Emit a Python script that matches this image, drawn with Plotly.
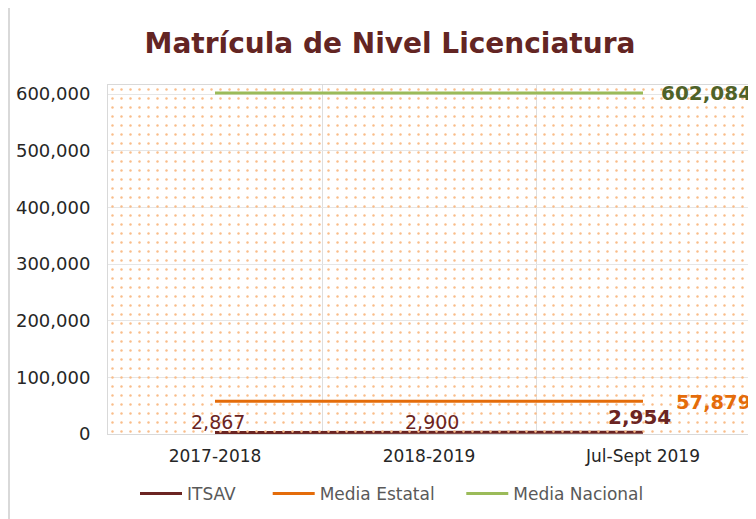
import plotly.graph_objects as go

categories = ["2017-2018", "2018-2019", "Jul-Sept 2019"]
itsav = [2867, 2900, 2954]
media_estatal = [57879, 57879, 57879]
media_nacional = [602084, 602084, 602084]
y_ticks = [0, 100000, 200000, 300000, 400000, 500000, 600000]
series_names = ["ITSAV", "Media Estatal", "Media Nacional"]

C_ITSAV = "#6b2422"
C_EST = "#e46c0a"
C_NAC = "#9bbb59"
FONT = "DejaVu Sans"
NB = "\u00a0"

def fmt(v):
    return f"{v:,}"

# figure is drawn 8px in from the window edge (page body margin)
L, R, T, B = 100, 14, 77, 93
PW, PH = 756 - L - R, 519 - T - B

fig = go.Figure()

# patterned plot-area background (decoration)
fig.add_trace(go.Bar(
    x=[0], y=[1], width=[1], xaxis="x2", yaxis="y2", showlegend=False, hoverinfo="skip",
    marker=dict(color="rgba(0,0,0,0)", line=dict(width=0),
                pattern=dict(shape=".", fgcolor="#f9bd89", size=9, solidity=0.06, fillmode="replace")),
))

fig.add_trace(go.Scatter(x=categories, y=itsav, name=series_names[0] + NB * 5, mode="lines",
                         line=dict(color=C_ITSAV, width=3)))
fig.add_trace(go.Scatter(x=categories, y=media_estatal, name=series_names[1] + NB * 4, mode="lines",
                         line=dict(color=C_EST, width=3)))
fig.add_trace(go.Scatter(x=categories, y=media_nacional, name=series_names[2], mode="lines",
                         line=dict(color=C_NAC, width=3)))

# data labels
for i, (c, v) in enumerate(zip(categories, itsav)):
    bold = i == len(itsav) - 1
    fig.add_annotation(x=c, y=v, text=("<b>%s</b>" % fmt(v)) if bold else fmt(v),
                       showarrow=False, xanchor="center", yanchor="bottom",
                       xshift=-4 if bold else 3, yshift=1 if bold else -3,
                       font=dict(family=FONT, size=20 if bold else 19, color=C_ITSAV))
fig.add_annotation(x=categories[-1], y=media_estatal[-1], text="<b>%s</b>" % fmt(media_estatal[-1]),
                   showarrow=False, xanchor="left", yanchor="middle", xshift=31, yshift=-1,
                   font=dict(family=FONT, size=19.5, color=C_EST))
fig.add_annotation(x=categories[-1], y=media_nacional[-1], text="<b>%s</b>" % fmt(media_nacional[-1]),
                   showarrow=False, xanchor="left", yanchor="middle", xshift=16, yshift=0,
                   font=dict(family=FONT, size=20, color="#4f6228"))

fig.update_layout(
    width=756, height=519,
    margin=dict(l=L, r=R, t=T, b=B, autoexpand=False),
    paper_bgcolor="white", plot_bgcolor="white",
    font=dict(family=FONT, color="#333333"),
    title=dict(text="<b>Matrícula de Nivel Licenciatura</b>", x=382 / 756, xanchor="center",
               y=1 - 35 / 519, yanchor="middle",
               font=dict(family=FONT, size=28, color="#632523")),
    xaxis=dict(type="category", range=[-0.5, 2.5], tickson="boundaries", ticks="",
               showgrid=True, gridcolor="#dedede", gridwidth=1,
               showline=True, linecolor="#d9d9d9", mirror=True, ticklabelstandoff=7,
               tickfont=dict(family=FONT, size=17, color="#262626")),
    yaxis=dict(range=[0, 616000], tickvals=y_ticks, ticktext=[fmt(v) for v in y_ticks],
               showgrid=True, gridcolor="#e6e6e6", zeroline=False,
               showline=True, linecolor="#d9d9d9", mirror=True, ticks="",
               ticklabelstandoff=13,
               tickfont=dict(family=FONT, size=18, color="#262626")),
    xaxis2=dict(overlaying="x", range=[-0.5, 0.5], visible=False),
    yaxis2=dict(overlaying="y", range=[0, 1], visible=False),
    bargap=0,
    legend=dict(orientation="h", x=(384 - L) / PW, xanchor="center", y=(PH - (486 - T)) / PH,
                yanchor="middle",
                font=dict(family=FONT, size=17, color="#595959"), itemwidth=42,
                tracegroupgap=0),
    showlegend=True,
)

fig.add_shape(type="line", xref="paper", yref="paper",
              x0=(1 - L) / PW, x1=(1 - L) / PW, y0=-B / PH, y1=1 + T / PH,
              line=dict(color="#d9d9d9", width=2))

fig.write_html("out.html")
